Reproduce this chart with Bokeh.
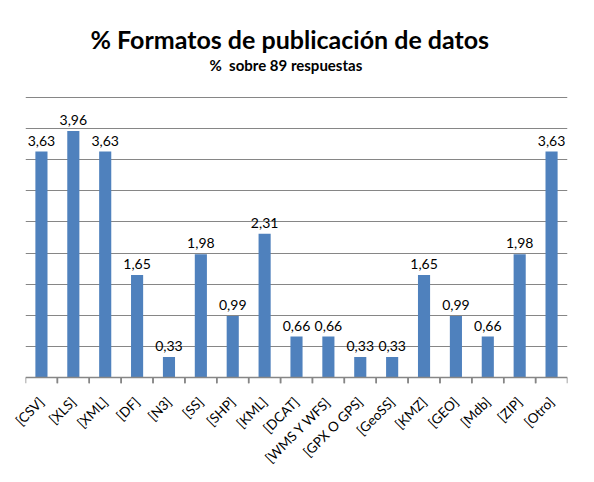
import numpy as np
from bokeh.plotting import figure
from bokeh.models import (ColumnDataSource, FactorRange, Range1d, Span, Title,
                          CategoricalAxis, FixedTicker, Grid)
from bokeh.transform import dodge
from bokeh.core.properties import value
from bokeh.embed import file_html
from bokeh.resources import INLINE

formats = ["[CSV]", "[XLS]", "[XML]", "[DF]", "[N3]", "[SS]", "[SHP]", "[KML]",
           "[DCAT]", "[WMS Y WFS]", "[GPX O GPS]", "[GeoSS]", "[KMZ]", "[GEO]",
           "[Mdb]", "[ZIP]", "[Otro]"]
pct = [3.63, 3.96, 3.63, 1.65, 0.33, 1.98, 0.99, 2.31,
       0.66, 0.66, 0.33, 0.33, 1.65, 0.99, 0.66, 1.98, 3.63]
grid_ticks = [0.5, 1.0, 1.5, 2.0, 2.5, 3.0, 3.5, 4.0, 4.5]

FONT = "Lato"
GRAY = "#868686"
BLUE = "#4F81BD"
TICK = 0.095  # tick mark length below the baseline, in data units (~6px)
TOP_PAD = 0.385  # empty room above the top gridline, below the subtitle

src = ColumnDataSource(dict(fmt=formats, pct=pct,
                            lbl=[f"{v:.2f}".replace(".", ",") for v in pct]))

p = figure(x_range=FactorRange(*formats),
           y_range=Range1d(-TICK, grid_ticks[-1] + TOP_PAD),
           width=578, height=474, title=None,
           x_axis_location=None, y_axis_location=None,
           toolbar_location=None, output_backend="svg",
           min_border_left=25, min_border_right=11,
           min_border_top=73, min_border_bottom=0)
p.outline_line_color = None
p.center = []
p.add_layout(Grid(dimension=1, ticker=FixedTicker(ticks=grid_ticks),
                  grid_line_color=GRAY, grid_line_width=1))

p.vbar(x="fmt", top="pct", width=0.38, source=src,
       fill_color=BLUE, line_color=None)
p.text(x="fmt", y="pct", text="lbl", source=src, text_align="center",
       text_baseline="alphabetic", y_offset=-11, text_color="black",
       text_font=value(FONT), text_font_size="14px")

# baseline and tick marks between the categories
p.add_layout(Span(location=0, dimension="width", line_color=GRAY,
                  line_width=1.5))
for side in (-0.5, 0.5):
    p.segment(x0=dodge("fmt", side, range=p.x_range), y0=0,
              x1=dodge("fmt", side, range=p.x_range), y1=-TICK,
              source=src, line_color=GRAY, line_width=1.5)

cats = CategoricalAxis(axis_line_color=None, major_tick_line_color=None,
                       major_tick_out=0, major_tick_in=0,
                       major_label_orientation=np.pi / 4,
                       major_label_standoff=16,
                       major_label_text_font=FONT,
                       major_label_text_font_size="13.5px",
                       major_label_text_color="black")
p.add_layout(cats, "below")

p.add_layout(Title(text="%\u00a0 sobre 89 respuestas", align="left", offset=184,
                   standoff=0, text_font=FONT, text_font_size="15px",
                   text_font_style="bold", text_color="black"), "above")
p.add_layout(Title(text="% Formatos de publicación de datos", align="left",
                   offset=65, standoff=0, text_font=FONT,
                   text_font_size="25px", text_font_style="bold",
                   text_color="black"), "above")

open("out.html", "w").write(file_html(p, INLINE))
